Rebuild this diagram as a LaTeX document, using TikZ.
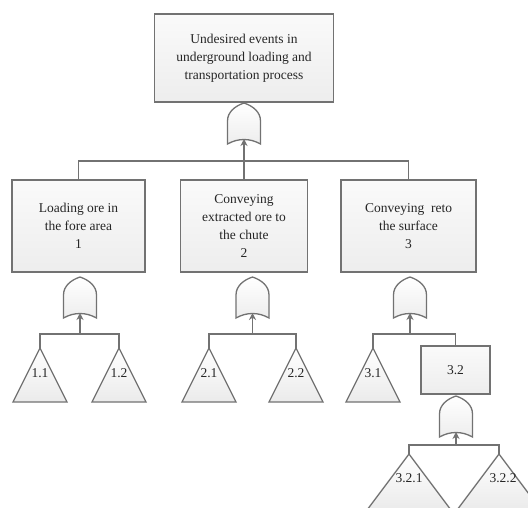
\documentclass[tikz,border=0pt]{standalone}
\usepackage{fontspec}
\setmainfont{Liberation Serif}
\usetikzlibrary{arrows.meta,calc}
\definecolor{linec}{HTML}{727272}
\definecolor{txtc}{HTML}{262626}
\tikzset{
  conn/.style={draw=linec, line width=1.3pt},
  arrowed/.style={conn, -{Stealth[length=7pt,width=7pt]}},
  evbox/.style={draw=linec, line width=1.3pt, top color=gray!4, bottom color=gray!14, shading angle=0,
    text=txtc, align=center, inner sep=0pt, font=\fontsize{13.5}{18}\selectfont},
  tri/.style={draw=linec, line width=1.3pt, top color=white, bottom color=gray!16},
  gatefill/.style={draw=linec, line width=1.3pt, top color=white, bottom color=gray!14},
  lbl/.style={text=txtc, inner sep=0pt, font=\fontsize{13.5}{16}\selectfont},
  orgate/.pic={
    \path[gatefill] (0,0) .. controls (9,3) and (16.5,9) .. (16.5,18) -- (16.5,41)
      .. controls (6,35) and (-6,35) .. (-16.5,41) -- (-16.5,18)
      .. controls (-16.5,9) and (-9,3) .. (0,0) -- cycle;
    \coordinate (-top) at (0,0);
    \coordinate (-in) at (0,36);
  }
}
\begin{document}
\begin{tikzpicture}[x=1pt,y=-1pt]
\useasboundingbox[fill=white] (0,0) rectangle (528,507);
\clip (0,0) rectangle (528,507);

% boxes
\node[evbox, minimum width=179pt, minimum height=88pt] (top) at (244,58)
  {Undesired events in\\underground loading and\\transportation process};
\node[evbox, minimum width=133pt, minimum height=92pt] (box1) at (78.5,226)
  {Loading ore in\\the fore area\\1};
\node[evbox, minimum width=127pt, minimum height=92pt] (box2) at (244,226)
  {Conveying\\extracted ore to\\the chute\\2};
\node[evbox, minimum width=135pt, minimum height=92pt] (box3) at (408.5,226)
  {Conveying~ reto\\the surface\\3};
\node[evbox, minimum width=69pt, minimum height=48pt] (box32) at (455.5,370) {3.2};

% gates
\pic (g0) at (244,103) {orgate};
\pic (g1) at (80,277) {orgate};
\pic (g2) at (252.5,277) {orgate};
\pic (g3) at (410,277) {orgate};
\pic (g32) at (456,396) {orgate};

% triangle apexes
\coordinate (t11) at (40,348);
\coordinate (t12) at (119,348);
\coordinate (t21) at (209,348);
\coordinate (t22) at (296,348);
\coordinate (t31) at (373,348);
\coordinate (t321) at (409,454);
\coordinate (t322) at (499,454);

% triangles
\path[tri] (t11) -- ++(27,54) -- ++(-54,0) -- cycle;
\path[tri] (t12) -- ++(27,54) -- ++(-54,0) -- cycle;
\path[tri] (t21) -- ++(27,54) -- ++(-54,0) -- cycle;
\path[tri] (t22) -- ++(27,54) -- ++(-54,0) -- cycle;
\path[tri] (t31) -- ++(27,54) -- ++(-54,0) -- cycle;
\path[tri] (t321) -- ++(42,56) -- ++(-84,0) -- cycle;
\path[tri] (t322) -- ++(42,56) -- ++(-84,0) -- cycle;

\node[lbl] (l11) at (40,373) {1.1};
\node[lbl] (l12) at (119,373) {1.2};
\node[lbl] (l21) at (209,373) {2.1};
\node[lbl] (l22) at (296,373) {2.2};
\node[lbl] (l31) at (373,373) {3.1};
\node[lbl] (l321) at (409,478) {3.2.1};
\node[lbl] (l322) at (503,478) {3.2.2};

% bars
\coordinate (b0) at (244,161);
\coordinate (b1) at (80,334);
\coordinate (b2) at (252.5,334);
\coordinate (b3) at (410,334);
\coordinate (b32) at (456,445);

\draw[conn] (box1.north) |- (b0) -| (box3.north);
\draw[arrowed] (box2.north) -- (g0-in);

\draw[conn] (t11) |- (b1) -| (t12);
\draw[arrowed] (b1) -- (g1-in);
\draw[conn] (t21) |- (b2) -| (t22);
\draw[arrowed] (b2) -- (g2-in);
\draw[conn] (t31) |- (b3) -| (box32.north);
\draw[arrowed] (b3) -- (g3-in);
\draw[conn] (t321) |- (b32) -| (t322);
\draw[arrowed] (b32) -- (g32-in);
\end{tikzpicture}
\end{document}
